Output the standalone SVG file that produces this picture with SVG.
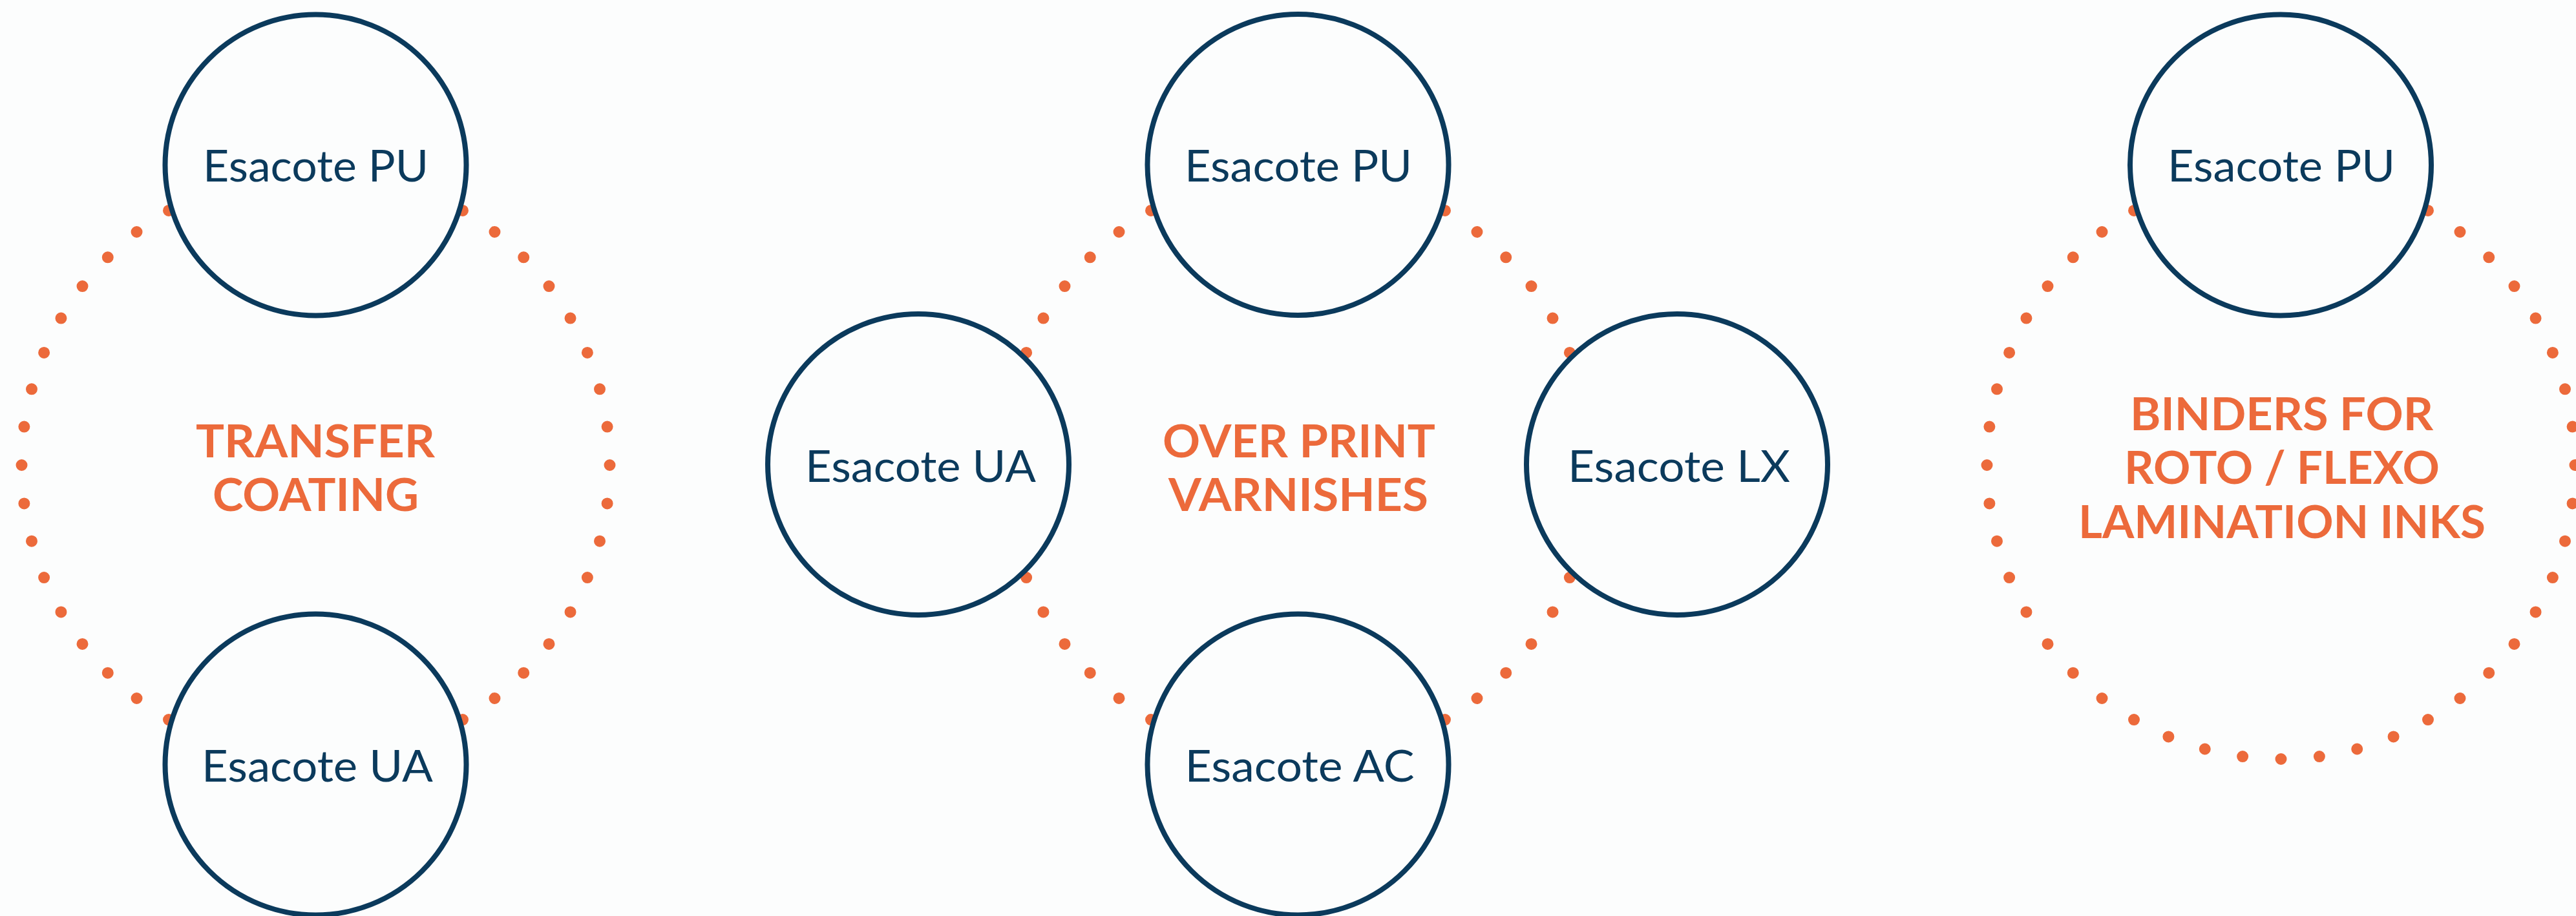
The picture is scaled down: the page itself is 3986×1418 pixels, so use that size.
<svg xmlns="http://www.w3.org/2000/svg" width="3986" height="1418" viewBox="0 0 3986 1418">
  <style>
    .bg { fill: #FCFDFD; }
    .ring { fill: none; stroke: #EC6A3B; stroke-width: 18; stroke-linecap: round; stroke-dasharray: 0 1; }
    .node { fill: #FCFDFD; stroke: #0B3A5C; stroke-width: 8; }
    .lbl { font-family: Lato, "Open Sans", "Liberation Sans", sans-serif; font-size: 68px; fill: #0B3A5C; text-anchor: middle; }
    .ttl { font-family: Lato, "Open Sans", "Liberation Sans", sans-serif; font-weight: 700; font-size: 70px; fill: #EC6A3B; text-anchor: middle; }
  </style>
  <rect class="bg" x="0" y="0" width="3986" height="1418"/>

  <g id="connectors">
    <circle class="ring" cx="488.5" cy="720" r="455" pathLength="48"/>
    <circle class="ring" cx="2008.5" cy="720" r="455" pathLength="48"/>
    <circle class="ring" cx="3529.5" cy="720" r="455" pathLength="48"/>
  </g>

  <g id="group-transfer">
    <g id="title-transfer">
      <text class="ttl" x="488" y="708" textLength="370" lengthAdjust="spacingAndGlyphs">TRANSFER</text>
      <text class="ttl" x="488.5" y="791" textLength="319" lengthAdjust="spacingAndGlyphs">COATING</text>
    </g>
    <g id="node-transfer-pu">
      <circle class="node" cx="488.5" cy="255.5" r="233"/>
      <text class="lbl" x="488.5" y="281" textLength="349" lengthAdjust="spacingAndGlyphs">Esacote PU</text>
    </g>
    <g id="node-transfer-ua">
      <circle class="node" cx="488.5" cy="1183.5" r="233"/>
      <text class="lbl" x="491" y="1209.5" textLength="358" lengthAdjust="spacingAndGlyphs">Esacote UA</text>
    </g>
  </g>

  <g id="group-opv">
    <g id="title-opv">
      <text class="ttl" x="2010" y="708" textLength="422" lengthAdjust="spacingAndGlyphs">OVER PRINT</text>
      <text class="ttl" x="2009" y="791" textLength="402" lengthAdjust="spacingAndGlyphs">VARNISHES</text>
    </g>
    <g id="node-opv-pu">
      <circle class="node" cx="2008.5" cy="255" r="233"/>
      <text class="lbl" x="2009" y="281" textLength="352" lengthAdjust="spacingAndGlyphs">Esacote PU</text>
    </g>
    <g id="node-opv-ua">
      <circle class="node" cx="1421" cy="719" r="233"/>
      <text class="lbl" x="1424.5" y="745.5" textLength="357" lengthAdjust="spacingAndGlyphs">Esacote UA</text>
    </g>
    <g id="node-opv-lx">
      <circle class="node" cx="2595" cy="719" r="233"/>
      <text class="lbl" x="2598" y="745.5" textLength="344" lengthAdjust="spacingAndGlyphs">Esacote LX</text>
    </g>
    <g id="node-opv-ac">
      <circle class="node" cx="2008.5" cy="1183.5" r="233"/>
      <text class="lbl" x="2011" y="1209.5" textLength="355" lengthAdjust="spacingAndGlyphs">Esacote AC</text>
    </g>
  </g>

  <g id="group-binders">
    <g id="title-binders">
      <text class="ttl" x="3530.5" y="666" textLength="469" lengthAdjust="spacingAndGlyphs">BINDERS FOR</text>
      <text class="ttl" x="3531" y="749" textLength="488" lengthAdjust="spacingAndGlyphs">ROTO / FLEXO</text>
      <text class="ttl" x="3531" y="832.5" textLength="630" lengthAdjust="spacingAndGlyphs">LAMINATION INKS</text>
    </g>
    <g id="node-binders-pu">
      <circle class="node" cx="3529" cy="255.5" r="233"/>
      <text class="lbl" x="3530" y="280.5" textLength="352" lengthAdjust="spacingAndGlyphs">Esacote PU</text>
    </g>
  </g>
</svg>
